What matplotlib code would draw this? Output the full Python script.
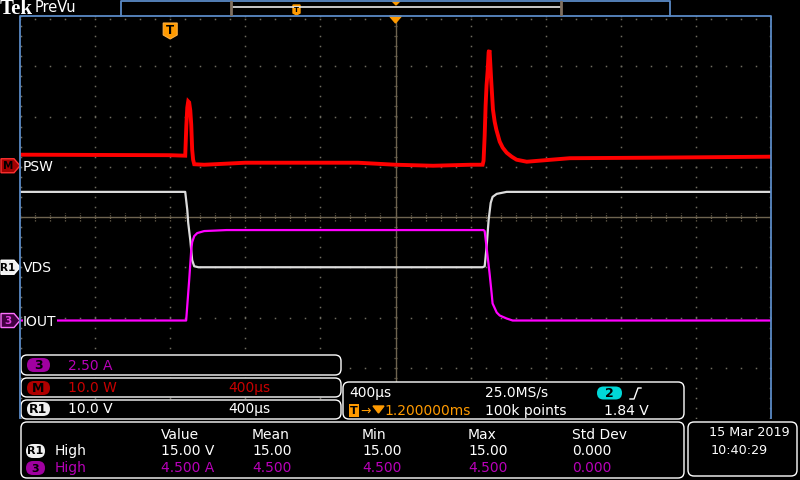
import matplotlib
matplotlib.use('Agg')
import matplotlib.pyplot as plt
import numpy as np
from matplotlib.patches import Polygon, FancyBboxPatch, Rectangle

# horizontal settings (µs)
t_per_div = 400
t_center = 1200          # trigger delay 1.2 ms
n_xdiv = 10
n_ydiv = 8

# PSW (math M), watts, 10 W/div
psw_t = [-800, 0, 80, 86, 91, 96, 101, 107, 112, 117, 122, 128, 181, 400, 1000, 1200,
         1400, 1600, 1664, 1669, 1675, 1680, 1685, 1691, 1696, 1701, 1710, 1719, 1728,
         1737, 1755, 1771, 1792, 1819, 1845, 1899, 2128, 2555, 3200]
psw_w = [2.2, 2.1, 2.0, 8.0, 11.6, 12.8, 12.6, 11.0, 8.2, 3.2, 1.2, 0.3, 0.2, 0.6, 0.6, 0.2,
         0.0, 0.2, 0.2, 1.0, 6.0, 12.0, 16.0, 19.0, 22.6, 23.0, 16.8, 11.2, 8.8,
         7.2, 4.8, 3.6, 2.6, 1.8, 1.2, 0.8, 1.5, 1.6, 1.8]
psw_scale = 10.0
psw_offset = 1.02

# VDS (ref R1), volts, 10 V/div
vds_t = [-800, 80, 91, 96, 107, 117, 128, 150, 1664, 1675, 1685, 1696, 1707, 1717, 1739, 1792, 3200]
vds_v = [15.0, 15.0, 11.4, 8.8, 5.4, 1.4, 0.2, 0.0, 0.0, 0.2, 4.0, 9.4, 12.8, 14.0, 14.6, 15.0, 15.0]
vds_scale = 10.0
vds_offset = -1.0

# IOUT (ch3), amps, 2.5 A/div
iout_t = [-800, 85, 101, 112, 117, 128, 144, 181, 300, 1669, 1675, 1685, 1701, 1712, 1717,
          1739, 1755, 1792, 1824, 3200]
iout_a = [0.0, 0.0, 2.0, 3.5, 3.9, 4.2, 4.35, 4.45, 4.5, 4.5, 4.45, 3.65, 2.35, 1.35, 0.85,
          0.4, 0.25, 0.1, 0.0, 0.0]
iout_scale = 2.5
iout_offset = -2.06

meas_headers = ['Value', 'Mean', 'Min', 'Max', 'Std Dev']
meas_r1 = ['15.00 V', '15.00', '15.00', '15.00', '0.000']
meas_ch3 = ['4.500 A', '4.500', '4.500', '4.500', '0.000']

RED = '#ff0000'
WHITE = '#dcdcdc'
MAG = '#ff00ff'
ORANGE = '#ff9a00'
BLUE = '#5a8ac6'
GRID = '#6e6c60'
CENTER = '#6e6450'
PURPLE_TXT = '#b800b8'
RED_TXT = '#c80000'

fig = plt.figure(figsize=(8, 4.8), dpi=100, facecolor='black')

ax = fig.add_axes([20 / 800, 62 / 480, 751 / 800, 402 / 480])
ax.set_facecolor('black')
t0 = t_center - t_per_div * n_xdiv / 2
t1 = t_center + t_per_div * n_xdiv / 2
ax.set_xlim(t0, t1)
ax.set_ylim(-n_ydiv / 2, n_ydiv / 2)
ax.set_xticks([])
ax.set_yticks([])
for s in ax.spines.values():
    s.set_visible(False)

# graticule dots
xdivs = t0 + t_per_div * np.arange(1, n_xdiv)
ydivs = np.arange(-n_ydiv / 2 + 1, n_ydiv / 2)
yfine = np.arange(-n_ydiv / 2, n_ydiv / 2 + 0.01, 0.2)
xfine = np.arange(t0, t1 + 1, t_per_div / 5)
for xv in xdivs:
    if xv != t_center:
        ax.plot(np.full(len(yfine), xv), yfine, 's', ms=1.1, mew=0, color=GRID)
for yv in ydivs:
    if yv != 0:
        ax.plot(xfine, np.full(len(xfine), yv), 's', ms=1.1, mew=0, color=GRID)
# edge ticks
ax.plot(np.full(len(yfine), t1 - 6), yfine, 's', ms=1.1, mew=0, color=GRID)
ax.plot(np.full(len(yfine), t0 + 6), yfine, 's', ms=1.1, mew=0, color=GRID)
ax.plot(xfine, np.full(len(xfine), n_ydiv / 2 - 0.05), 's', ms=1.1, mew=0, color=GRID)
# center cross
ax.axhline(0, color=CENTER, lw=1.0)
ax.axvline(t_center, color=CENTER, lw=1.0)
ax.vlines(xfine, -0.07, 0.07, color=CENTER, lw=0.9, linestyles=(0, (1, 1)))
ax.hlines(yfine, t_center - 10, t_center + 10, color=CENTER, lw=0.9, linestyles=(0, (1, 1)))

# traces
ax.plot(psw_t, psw_offset + np.array(psw_w) / psw_scale, color=RED, lw=2.8, zorder=5,
        solid_joinstyle='miter')
ax.plot(vds_t, vds_offset + np.array(vds_v) / vds_scale, color=WHITE, lw=1.6, zorder=4)
ax.plot(iout_t, iout_offset + np.array(iout_a) / iout_scale, color=MAG, lw=1.6, zorder=4)

# UI overlay in screen pixels
ui = fig.add_axes([0, 0, 1, 1], zorder=10)
ui.set_xlim(0, 800)
ui.set_ylim(480, 0)
ui.axis('off')
ui.patch.set_alpha(0)


def to_ui(t, d):
    p = ax.transData.transform((t, d))
    return ui.transData.inverted().transform(p)


# graticule border
ui.plot([20, 20, 771, 771], [418, 16, 16, 418], color=BLUE, lw=1.3)

# top bar
ui.text(0, 9, 'Tek', color='white', fontsize=15, fontweight='bold', family='Liberation Serif',
        ha='left', va='center')
ui.text(35, 8, 'PreVu', color='white', fontsize=10.5, ha='left', va='center')
ui.plot([121, 121, 670, 670], [16, 1, 1, 16], color=BLUE, lw=1.3)
ui.plot([233, 560], [7, 7], color='#e8e8e8', lw=1.2)
ui.plot([231, 231], [2, 14], color='#807060', lw=2)
ui.plot([561, 561], [2, 14], color='#807060', lw=2)
ui.add_patch(Polygon([[293, 5], [300, 5], [300, 13], [296.5, 15], [293, 13]], closed=True,
                     fc=ORANGE, ec=ORANGE))
ui.text(296.5, 9.5, 'T', color='black', fontsize=5, ha='center', va='center', fontweight='bold')
ui.add_patch(Polygon([[392, 1], [400, 1], [396, 5]], closed=True, fc=ORANGE, ec=ORANGE))

# trigger position marker and center marker
tx, _ = to_ui(0, 0)
ui.add_patch(Polygon([[tx - 7, 23], [tx + 7, 23], [tx + 7, 35], [tx, 39], [tx - 7, 35]],
                     closed=True, fc=ORANGE, ec='#ffb040', lw=0.8))
ui.text(tx, 30, 'T', color='black', fontsize=8.5, fontweight='bold', ha='center', va='center')
cx, _ = to_ui(t_center, 0)
ui.add_patch(Polygon([[cx - 6, 16], [cx + 6, 16], [cx, 23]], closed=True, fc=ORANGE, ec=ORANGE))

# channel ground markers
chans = [('M', psw_offset, '#a00000', '#ff3030', 'black', 'PSW'),
         ('R1', vds_offset, '#f0f0f0', 'white', 'black', 'VDS'),
         ('3', iout_offset, '#400040', '#ff70ff', '#e040e0', 'IOUT')]
for lab, off, fc, ec, tc, name in chans:
    _, gy = to_ui(0, off)
    ui.add_patch(Polygon([[1, gy - 7], [14, gy - 7], [20, gy], [14, gy + 7], [1, gy + 7]],
                         closed=True, fc=fc, ec=ec, lw=1))
    ui.text(8, gy + 0.5, lab, color=tc, fontsize=7.5, fontweight='bold', ha='center', va='center')
    ui.text(23, gy + 1, name, color='white', fontsize=10, ha='left', va='center',
            bbox=dict(fc='black', ec='none', pad=0.3))


def box(x0, y0, x1, y1, r=6):
    ui.add_patch(FancyBboxPatch((x0, y0), x1 - x0, y1 - y0,
                                boxstyle='round,pad=0,rounding_size=%g' % r,
                                fc='black', ec='white', lw=1, mutation_aspect=1))


def badge(x0, x1, yc, h, lab, fc, tc='black', fs=9):
    ui.add_patch(FancyBboxPatch((x0, yc - h / 2), x1 - x0, h,
                                boxstyle='round,pad=0,rounding_size=%g' % (h / 2),
                                fc=fc, ec='none'))
    ui.text((x0 + x1) / 2, yc + 0.5, lab, color=tc, fontsize=fs, fontweight='bold',
            ha='center', va='center')


# vertical readouts
box(21, 355, 341, 375)
badge(27, 50, 365, 14, '3', '#a000a0')
ui.text(68, 366, '2.50 A', color=PURPLE_TXT, fontsize=10, ha='left', va='center')
box(21, 378, 341, 397)
badge(27, 50, 388, 14, 'M', '#b00000')
ui.text(68, 388, '10.0 W', color=RED_TXT, fontsize=10, ha='left', va='center')
ui.text(228, 388, '400µs', color=RED_TXT, fontsize=10, ha='left', va='center')
box(21, 400, 341, 419)
badge(27, 50, 409, 14, 'R1', '#f0f0f0')
ui.text(68, 409, '10.0 V', color='white', fontsize=10, ha='left', va='center')
ui.text(228, 409, '400µs', color='white', fontsize=10, ha='left', va='center')

# horizontal / acquisition / trigger readout
box(343, 382, 684, 419)
ui.text(349, 393, '400µs', color='white', fontsize=10, ha='left', va='center')
ui.text(485, 393, '25.0MS/s', color='white', fontsize=10, ha='left', va='center')
badge(597, 622, 393, 13, '2', '#00d8d8')
ui.plot([630, 634, 638, 641], [399, 399, 388, 388], color='white', lw=1)
ui.add_patch(Rectangle((349, 404), 10, 13, fc=ORANGE, ec='none'))
ui.text(354, 411, 'T', color='black', fontsize=8, fontweight='bold', ha='center', va='center')
ui.text(360, 411, '→', color=ORANGE, fontsize=9, ha='left', va='center')
ui.add_patch(Polygon([[373, 406], [384, 406], [378.5, 413]], closed=True, fc=ORANGE, ec=ORANGE))
ui.text(384, 411, '1.200000ms', color=ORANGE, fontsize=10, ha='left', va='center')
ui.text(485, 411, '100k points', color='white', fontsize=10, ha='left', va='center')
ui.text(604, 411, '1.84 V', color='white', fontsize=10, ha='left', va='center')

# measurements
box(21, 422, 684, 478)
hx = [161, 252, 362, 468, 572]
for x, h in zip(hx, meas_headers):
    ui.text(x, 435, h, color='white', fontsize=10, ha='left', va='center')
for x, v in zip(hx, meas_r1):
    ui.text(x, 451, v, color='white', fontsize=10, ha='left', va='center')
for x, v in zip(hx, meas_ch3):
    ui.text(x, 468, v, color=PURPLE_TXT, fontsize=10, ha='left', va='center')
badge(26, 45, 451, 14, 'R1', '#f0f0f0', fs=8)
badge(26, 45, 468, 14, '3', '#a000a0', fs=8)
ui.text(55, 451, 'High', color='white', fontsize=10, ha='left', va='center')
ui.text(55, 468, 'High', color=PURPLE_TXT, fontsize=10, ha='left', va='center')

# date
box(688, 422, 797, 476)
ui.text(709, 432, '15 Mar 2019', color='white', fontsize=9.2, ha='left', va='center')
ui.text(711, 450, '10:40:29', color='white', fontsize=9.2, ha='left', va='center')

fig.savefig('out.png', dpi=100, facecolor='black')
